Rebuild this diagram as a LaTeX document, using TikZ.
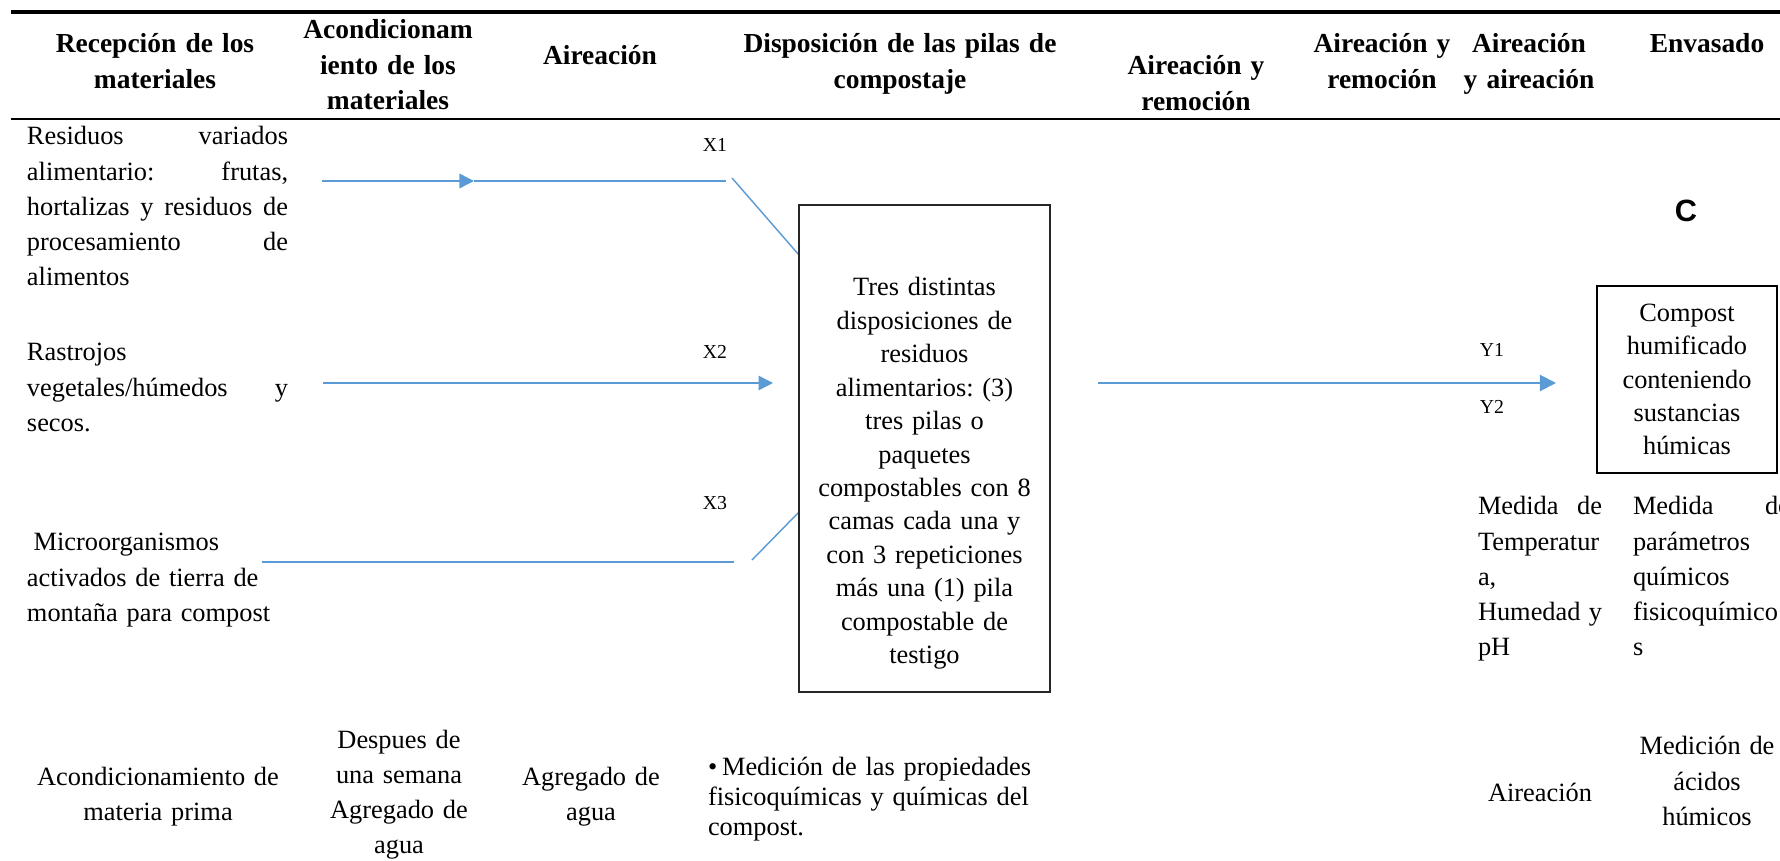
\documentclass[tikz,border=0pt]{standalone}
\usepackage{fontspec}
\setmainfont{Liberation Serif}
\newfontfamily\labelfont{Liberation Sans}
\usetikzlibrary{arrows.meta}
\definecolor{flowblue}{HTML}{5B9BD5}

\begin{document}
\frenchspacing
\begin{tikzpicture}[x=0.455pt, y=-0.455pt,
    every node/.style={inner sep=0pt, outer sep=0pt},
    header/.style={font=\fontsize{12.5}{16}\selectfont\bfseries, align=center, text width=#1, anchor=base},
    body/.style={font=\fontsize{12}{16}\selectfont, align=left, text width=#1, anchor=base west},
    centre/.style={font=\fontsize{12}{16}\selectfont, align=center, text width=#1, anchor=base},
    tag/.style={font=\fontsize{9}{11}\selectfont},
    flow/.style={draw=flowblue, line width=0.65pt},
    tipx/.style={-{Triangle[length=6.6pt,width=6.6pt]}},
    tipy/.style={-{Triangle[length=7.3pt,width=7.3pt]}},
    pilebox/.style={draw=black!85, line width=0.7pt, minimum width=114.2pt, minimum height=221.6pt},
    boxtext/.style={font=\fontsize{12}{15.2}\selectfont, align=center, text width=105pt, anchor=base},
    compbox/.style={draw, line width=0.7pt, minimum width=81.9pt, minimum height=85.1pt,
        text width=75pt, align=center, font=\fontsize{12}{15.2}\selectfont}]

    % Page size (1780 x 861)
    \useasboundingbox (0,0) rectangle (1780,861);

    % Table rules
    \draw[line width=1.4pt] (11,12) -- (1780,12);
    \draw[line width=0.9pt] (11,119) -- (1780,119);

    % Column headers
    \node[header=113pt] (hrecep) at (155,53) {Recepción de los\\materiales};
    \node[header=90pt] (hacond) at (388,39) {Acondicionam\\iento de los\\materiales};
    \node[header=80pt] (haire) at (600,65) {Aireación};
    \node[header=150pt] (hdisp) at (900,53) {Disposición de las pilas de\\compostaje};
    \node[header=80pt] (hremo) at (1196,75) {Aireación y\\remoción};
    \node[header=80pt] (hremob) at (1382,53) {Aireación y\\remoción};
    \node[header=80pt] (hairb) at (1529,53) {Aireación\\y aireación};
    \node[header=80pt] (henva) at (1707,53) {Envasado};

    % Raw materials
    \node[body=118.8pt] (resid) at (27,145) {Residuos\hfill variados\\alimentario:\hfill frutas,\\hortalizas\hfill y\hfill residuos\hfill de\\procesamiento\hfill de\\alimentos};
    \node[body=118.8pt] (rastr) at (27,361) {Rastrojos\\vegetales/húmedos\hfill y\\secos.};
    \node[body=118.8pt] (micro) at (27,551) {\hspace*{3pt}Microorganismos\\activados de tierra de\\montaña para compost};

    % Inputs going to the piles
    \coordinate (xa1) at (322,181);
    \coordinate (xm1) at (474,181);
    \coordinate (xb1) at (726,181);
    \coordinate (xc1) at (732,178);
    \coordinate (xd1) at (799,255);
    \coordinate (xa2) at (323,383);
    \coordinate (xb2) at (773,383);
    \coordinate (xa3) at (262,562);
    \coordinate (xb3) at (734,562);
    \coordinate (xc3) at (752,560);
    \coordinate (xd3) at (799,512);

    \draw[flow, tipx] (xa1) -- (xm1);
    \draw[flow] (xm1) -- (xb1);
    \draw[flow] (xc1) -- (xd1);
    \draw[flow, tipx] (xa2) -- (xb2);
    \draw[flow] (xa3) -- (xb3);
    \draw[flow] (xc3) -- (xd3);

    \foreach \n/\yy in {1/145, 2/352, 3/503}
        \node[tag] (xlab\n) at (715,\yy) {X\n};

    % Compost piles
    \node[pilebox] (pile) at (924.5,448.5) {};
    \node[boxtext] (piletext) at (924.5,296) {Tres distintas\\disposiciones de\\residuos\\alimentarios: (3)\\tres pilas o\\paquetes\\compostables con 8\\camas cada una y\\con 3 repeticiones\\más una (1) pila\\compostable de\\testigo};

    % Output
    \coordinate (ya) at (1098,383);
    \coordinate (yb) at (1556,383);
    \draw[flow, line width=0.9pt, tipy] (ya) -- (yb);
    \foreach \n/\yy in {1/350, 2/407}
        \node[tag] (ylab\n) at (1492,\yy) {Y\n};

    \node[font={\labelfont\fontsize{14}{16}\selectfont\bfseries}] (clab) at (1686,211) {C};
    \node[compbox] (comp) at (1687,379.5) {Compost\\humificado\\conteniendo\\sustancias\\húmicas};

    % Measurements
    \node[body=56.4pt] (tempe) at (1478,515) {Medida\hfill de\\Temperatur\\a,\\Humedad\hfill y\\pH};
    \node[body=71.4pt] (param) at (1633,515) {Medida\hfill de\\parámetros\\químicos\\fisicoquímico\\s};

    % Bottom row
    \node[centre=118pt] (acond) at (158,785) {Acondicionamiento de\\materia prima};
    \node[centre=80pt] (despu) at (399,748) {Despues de\\una semana\\Agregado de\\agua};
    \node[centre=80pt] (agreg) at (591,785) {Agregado de\\agua};
    \node[font=\fontsize{12}{13.7}\selectfont, align=left, text width=160pt, anchor=base west] (medic) at (708,775)
        {\hangindent=6.4pt\hangafter=1\makebox[6.4pt][l]{\textbullet}Medición de las propiedades\\fisicoquímicas y químicas del\\compost.};
    \node[centre=80pt] (airec) at (1540,801) {Aireación};
    \node[centre=75pt] (acido) at (1707,755) {Medición de\\ácidos\\húmicos};
\end{tikzpicture}
\end{document}
